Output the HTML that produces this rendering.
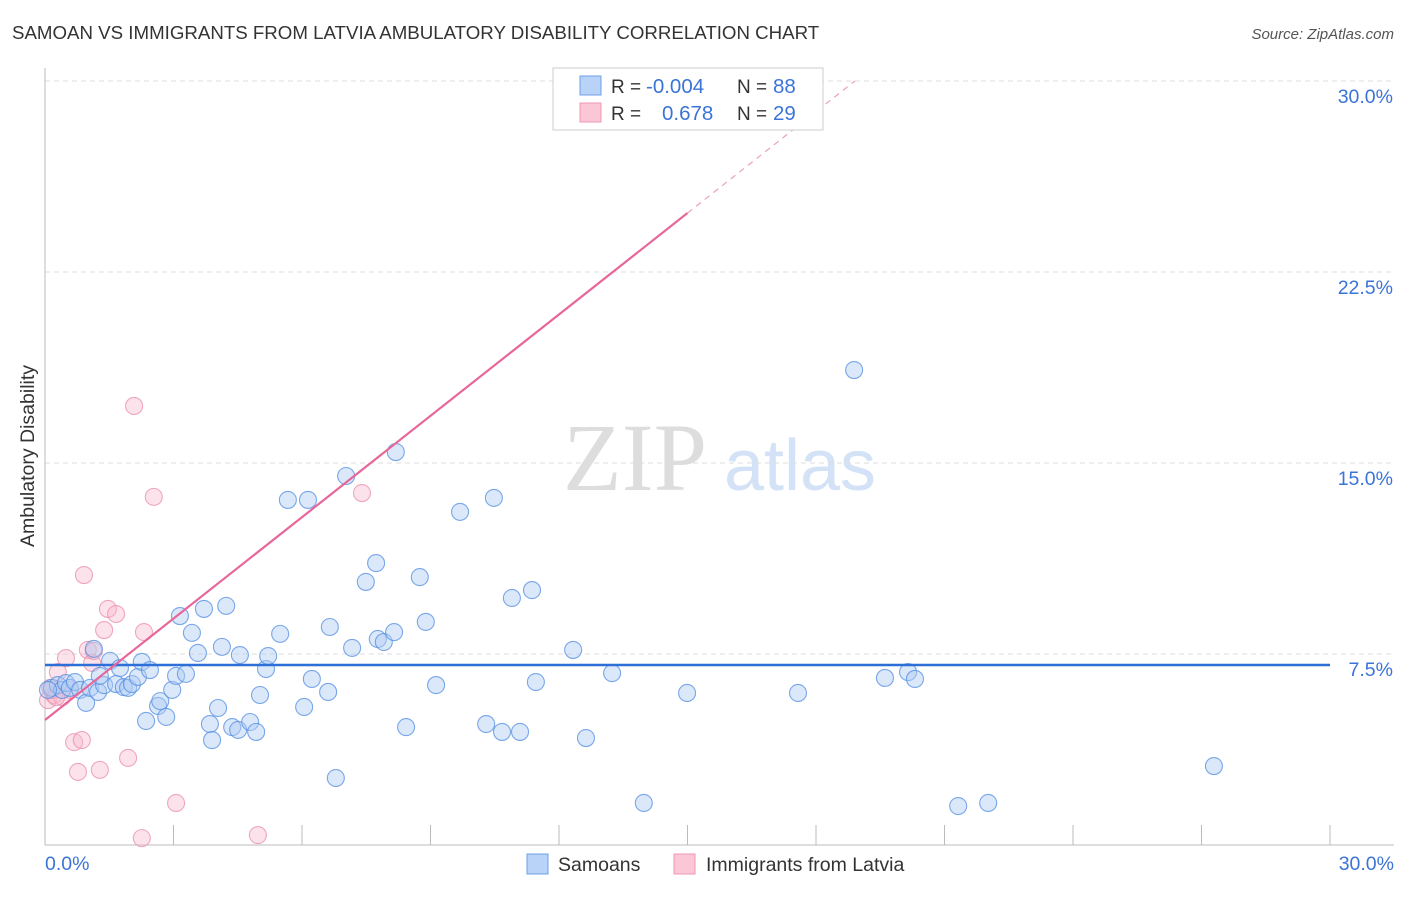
<!DOCTYPE html>
<html><head><meta charset="utf-8">
<style>
html,body{margin:0;padding:0;background:#fff;}
body{width:1406px;height:892px;overflow:hidden;font-family:"Liberation Sans",sans-serif;}
</style></head>
<body>
<svg id="chart" width="1406" height="892" xmlns="http://www.w3.org/2000/svg" font-family="Liberation Sans, sans-serif">
<text x="12" y="39" font-size="18.7" fill="#333">SAMOAN VS IMMIGRANTS FROM LATVIA AMBULATORY DISABILITY CORRELATION CHART</text>
<text x="1394" y="39" font-size="15" fill="#555" text-anchor="end" font-style="italic">Source: ZipAtlas.com</text>
<text transform="translate(34,456) rotate(-90)" font-size="19.5" fill="#333" text-anchor="middle">Ambulatory Disability</text>
<g>
<text x="635" y="490" font-size="96" fill="#ddd" font-family="Liberation Serif, serif" text-anchor="middle">ZIP</text>
<text x="800" y="490" font-size="72" fill="#d3e2f6" text-anchor="middle">atlas</text>
</g>
<g id="grid"></g><g id="axes"></g><g id="points"></g><g id="trends"></g>
<g>
<rect x="553" y="68" width="270" height="62" fill="#fff" stroke="#ccc"/>
<rect x="580" y="76" width="21" height="19" fill="#b8d3f7" stroke="#6f9fe6"/>
<text x="611" y="93" font-size="19" fill="#333">R = </text><text x="646" y="93" font-size="20.5" fill="#3b74d8">-0.004</text>
<text x="737" y="93" font-size="19" fill="#333">N = </text><text x="773" y="93" font-size="20.5" fill="#3b74d8">88</text>
<rect x="580" y="103" width="21" height="19" fill="#fbc6d5" stroke="#ee98b2"/>
<text x="611" y="120" font-size="19" fill="#333">R = </text><text x="662" y="120" font-size="20.5" fill="#3b74d8">0.678</text>
<text x="737" y="120" font-size="19" fill="#333">N = </text><text x="773" y="120" font-size="20.5" fill="#3b74d8">29</text>
</g>
<g>
<rect x="527" y="854" width="21" height="20" fill="#b8d3f7" stroke="#6f9fe6"/>
<text x="558" y="871" font-size="19.5" fill="#333">Samoans</text>
<rect x="674" y="854" width="21" height="20" fill="#fbc6d5" stroke="#ee98b2"/>
<text x="706" y="871" font-size="19.5" fill="#333">Immigrants from Latvia</text>
</g>
</svg>
<script>
const blueX=[0.16,0.30,0.40,0.49,0.58,0.70,0.82,0.96,1.05,1.14,1.24,1.38,1.52,1.66,1.75,1.84,1.94,2.03,2.17,2.26,2.36,2.45,2.64,2.69,2.83,2.97,3.06,3.15,3.29,3.43,3.57,3.71,3.85,3.90,4.04,4.13,4.23,4.37,4.51,4.55,4.79,4.93,5.02,5.16,5.21,5.49,5.67,6.05,6.14,6.23,6.61,6.65,6.79,7.03,7.17,7.49,7.73,7.77,7.91,8.15,8.19,8.43,8.75,8.89,9.13,9.69,10.30,10.48,10.67,10.90,11.09,11.37,11.46,12.33,12.63,13.24,13.98,14.99,17.58,18.89,19.61,20.15,20.31,21.32,22.02,27.29,0.07,1.28];
const blueY=[6.17,6.28,6.09,6.36,6.17,6.40,6.09,5.58,6.17,7.70,6.01,6.28,7.23,6.32,6.95,6.20,6.17,6.32,6.60,7.19,4.87,6.87,5.46,5.65,5.03,6.09,6.64,8.99,6.72,8.33,7.54,9.27,4.75,4.12,5.38,7.78,9.39,4.63,4.52,7.46,4.83,4.44,5.89,6.91,7.42,8.29,13.55,5.42,13.55,6.52,6.01,8.56,2.63,14.49,7.74,10.33,11.07,8.09,7.97,8.36,15.43,4.63,10.52,8.76,6.28,13.08,4.75,13.63,4.44,9.70,4.44,10.01,6.40,7.66,4.20,6.75,1.65,5.97,5.97,18.65,6.56,6.79,6.52,1.53,1.65,3.10,6.09,6.64];
const pinkX=[0.07,0.12,0.21,0.30,0.40,0.49,0.58,0.68,0.77,0.86,0.91,1.00,1.10,1.14,1.28,1.38,1.47,1.66,1.94,2.26,2.31,2.54,3.06,2.08,4.97,7.40,14.36,0.16,0.26];
const pinkY=[5.69,6.17,5.89,6.79,5.81,7.34,6.09,4.04,2.87,4.12,10.60,7.66,7.15,7.62,2.95,8.44,9.27,9.07,3.42,0.27,8.36,13.67,1.65,17.24,0.39,13.82,28.47,6.09,5.81];
const yTicks=[7.5,15.0,22.5,30.0];
const xTickVals=[0,3,6,9,12,15,18,21,24,27,30];
const blueTrend=[7.07,7.07];
const pinkTrend=[4.91,1.327];
const X0=45,X1=1330,Y0=845,YS=191/7.5;
const sx=v=>X0+(v/30)*(X1-X0), sy=v=>Y0-v*YS;
const NS='http://www.w3.org/2000/svg';
function mk(tag,attrs,parent){const e=document.createElementNS(NS,tag);for(const k in attrs)e.setAttribute(k,attrs[k]);parent.appendChild(e);return e;}
const grid=document.getElementById('grid'),axes=document.getElementById('axes'),pts=document.getElementById('points'),tr=document.getElementById('trends');
yTicks.forEach(t=>{
 const l=mk('line',{x1:X0,x2:1394,y1:sy(t),y2:sy(t),stroke:'#ddd','stroke-dasharray':'5,4'},grid);
 
 
 const tx=mk('text',{x:1393,y:sy(t)+22,'font-size':19.5,fill:'#3b74d8','text-anchor':'end'},axes);
 tx.textContent=t.toFixed(1)+'%';
 
 
});
const xa=mk('line',{x1:X0,x2:1394,y1:Y0,y2:Y0,stroke:'#bbb'},axes);


const ya=mk('line',{x1:X0,x2:X0,y1:68,y2:Y0,stroke:'#bbb'},axes);


xTickVals.forEach(t=>{
 const l=mk('line',{x1:sx(t),x2:sx(t),y1:Y0-20,y2:Y0,stroke:'#bbb'},axes);
 
 
});
const xl0=mk('text',{x:45,y:870,'font-size':19.5,fill:'#3b74d8'},axes);xl0.textContent='0.0%';


const xl1=mk('text',{x:1394,y:870,'font-size':19.5,fill:'#3b74d8','text-anchor':'end'},axes);xl1.textContent='30.0%';


pinkX.forEach((x,i)=>{
 const c=mk('circle',{cx:sx(x),cy:sy(pinkY[i]),r:8.5,fill:'rgba(248,185,205,0.4)',stroke:'rgba(235,140,170,0.75)','stroke-width':1.1},pts);
 
 
});
blueX.forEach((x,i)=>{
 const c=mk('circle',{cx:sx(x),cy:sy(blueY[i]),r:8.5,fill:'rgba(175,205,245,0.45)',stroke:'rgba(80,140,225,0.75)','stroke-width':1.1},pts);
 
 
});
const bt=mk('line',{x1:sx(0),x2:sx(30),y1:sy(blueTrend[0]),y2:sy(blueTrend[1]),stroke:'#2c6fd6','stroke-width':2.5},tr);


const pf=x=>pinkTrend[0]+pinkTrend[1]*x;
const pt=mk('line',{x1:sx(0),x2:sx(15),y1:sy(pf(0)),y2:sy(pf(15)),stroke:'#e8679a','stroke-width':2.2},tr);


const xe=(30-pinkTrend[0])/pinkTrend[1];
const pd=mk('line',{x1:sx(15),x2:sx(xe),y1:sy(pf(15)),y2:sy(30),stroke:'#eba0bb','stroke-width':1.2,'stroke-dasharray':'6,5'},tr);


</script>
</body></html>
